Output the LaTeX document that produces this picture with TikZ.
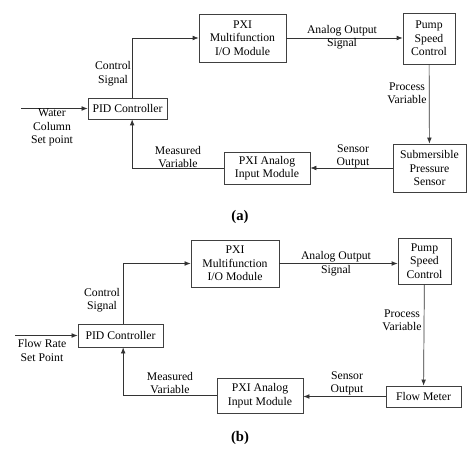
\documentclass[tikz,border=0pt]{standalone}
\usepackage{fontspec}
\setmainfont{Liberation Serif}
\usetikzlibrary{arrows.meta}
\tikzstyle{block} = [draw=black!75, line width=0.6pt,
	align=center, inner sep=0pt,
	font=\fontsize{10}{11.5}\selectfont]
\tikzstyle{arrow} = [-{Latex[length=1.8mm, width=1.4mm]}, line width=0.6pt, black!80]
\tikzstyle{lbl} = [align=center, inner sep=0pt, font=\fontsize{10}{11.5}\selectfont]
\tikzstyle{caption} = [inner sep=0pt, font=\bfseries\fontsize{12.5}{14}\selectfont]

\begin{document}
\begin{tikzpicture}[x=0.03cm, y=-0.03cm]
	\useasboundingbox (0,0) rectangle (474,453);
	
	% (a) water column loop
	\node (pxi) [block, minimum width=2.61cm, minimum height=1.44cm] at (242.5,38) {PXI\\Multifunction\\I/O Module};
	\node (pump) [block, minimum width=1.56cm, minimum height=1.53cm] at (429,38.5) {Pump\\Speed\\Control};
	\node (pid) [block, minimum width=2.37cm, minimum height=0.63cm] at (127.5,108.5) {PID Controller};
	\node (ain) [block, minimum width=2.58cm, minimum height=0.96cm] at (267,168) {PXI Analog\\Input Module};
	\node (sps) [block, minimum width=2.19cm, minimum height=1.44cm] at (429.5,168) {Submersible\\Pressure\\Sensor};
	\coordinate (set) at (21,108.5);
	
	\draw [arrow] (set) -- (pid);
	\draw [arrow] ([xshift=1.4mm]pid.north) |- (pxi.west);
	\draw [arrow] (pxi) -- (pxi.east -| pump.west);
	\draw [arrow] (pump) -- (sps);
	\draw [arrow] (sps) -- (ain);
	\draw [arrow] (ain.west) -| ([xshift=1.4mm]pid.south);
	
	\node (setlbl) [lbl] at (52,127.5) {Water\\Column\\Set point};
	\node (ctllbl) [lbl] at (113,73.5) {Control\\Signal};
	\node (aolbl) [lbl] at (342,37) {Analog Output\\Signal};
	\node (pvlbl) [lbl] at (407,93.5) {Process\\Variable};
	\node (solbl) [lbl] at (353,156.5) {Sensor\\Output};
	\node (mvlbl) [lbl] at (178,157) {Measured\\Variable};
	\node (capa) [caption] at (240,217) {(a)};
	
	% (b) flow rate loop
	\node (pxib) [block, minimum width=2.64cm, minimum height=1.41cm] at (235,263.5) {PXI\\Multifunction\\I/O Module};
	\node (pumpb) [block, minimum width=1.59cm, minimum height=1.38cm] at (424.5,261) {Pump\\Speed\\Control};
	\node (pidb) [block, minimum width=2.55cm, minimum height=0.69cm] at (120.5,335.5) {PID Controller};
	\node (ainb) [block, minimum width=2.58cm, minimum height=1.05cm] at (260,395.5) {PXI Analog\\Input Module};
	\node (fm) [block, minimum width=2.25cm, minimum height=0.63cm] at (423.5,396.5) {Flow Meter};
	\coordinate (setb) at (15,335.5);
	
	\draw [arrow] (setb) -- (pidb);
	\draw [arrow] ([xshift=0.8mm]pidb.north) |- (pxib.west);
	\draw [arrow] (pxib) -- (pxib.east -| pumpb.west);
	\draw [arrow] (pumpb) -- (fm);
	\draw [arrow] (fm) -- (fm.west -| ainb.east);
	\draw [arrow] (ainb.west) -| ([xshift=0.8mm]pidb.south);
	
	\node (setblbl) [lbl] at (42,350.5) {Flow Rate\\Set Point};
	\node (ctlblbl) [lbl] at (102,300) {Control\\Signal};
	\node (aoblbl) [lbl] at (336,263.5) {Analog Output\\Signal};
	\node (pvblbl) [lbl] at (402,320) {Process\\Variable};
	\node (soblbl) [lbl] at (347,383.5) {Sensor\\Output};
	\node (mvblbl) [lbl] at (170,383) {Measured\\Variable};
	\node (capb) [caption] at (240,438) {(b)};
\end{tikzpicture}
\end{document}
